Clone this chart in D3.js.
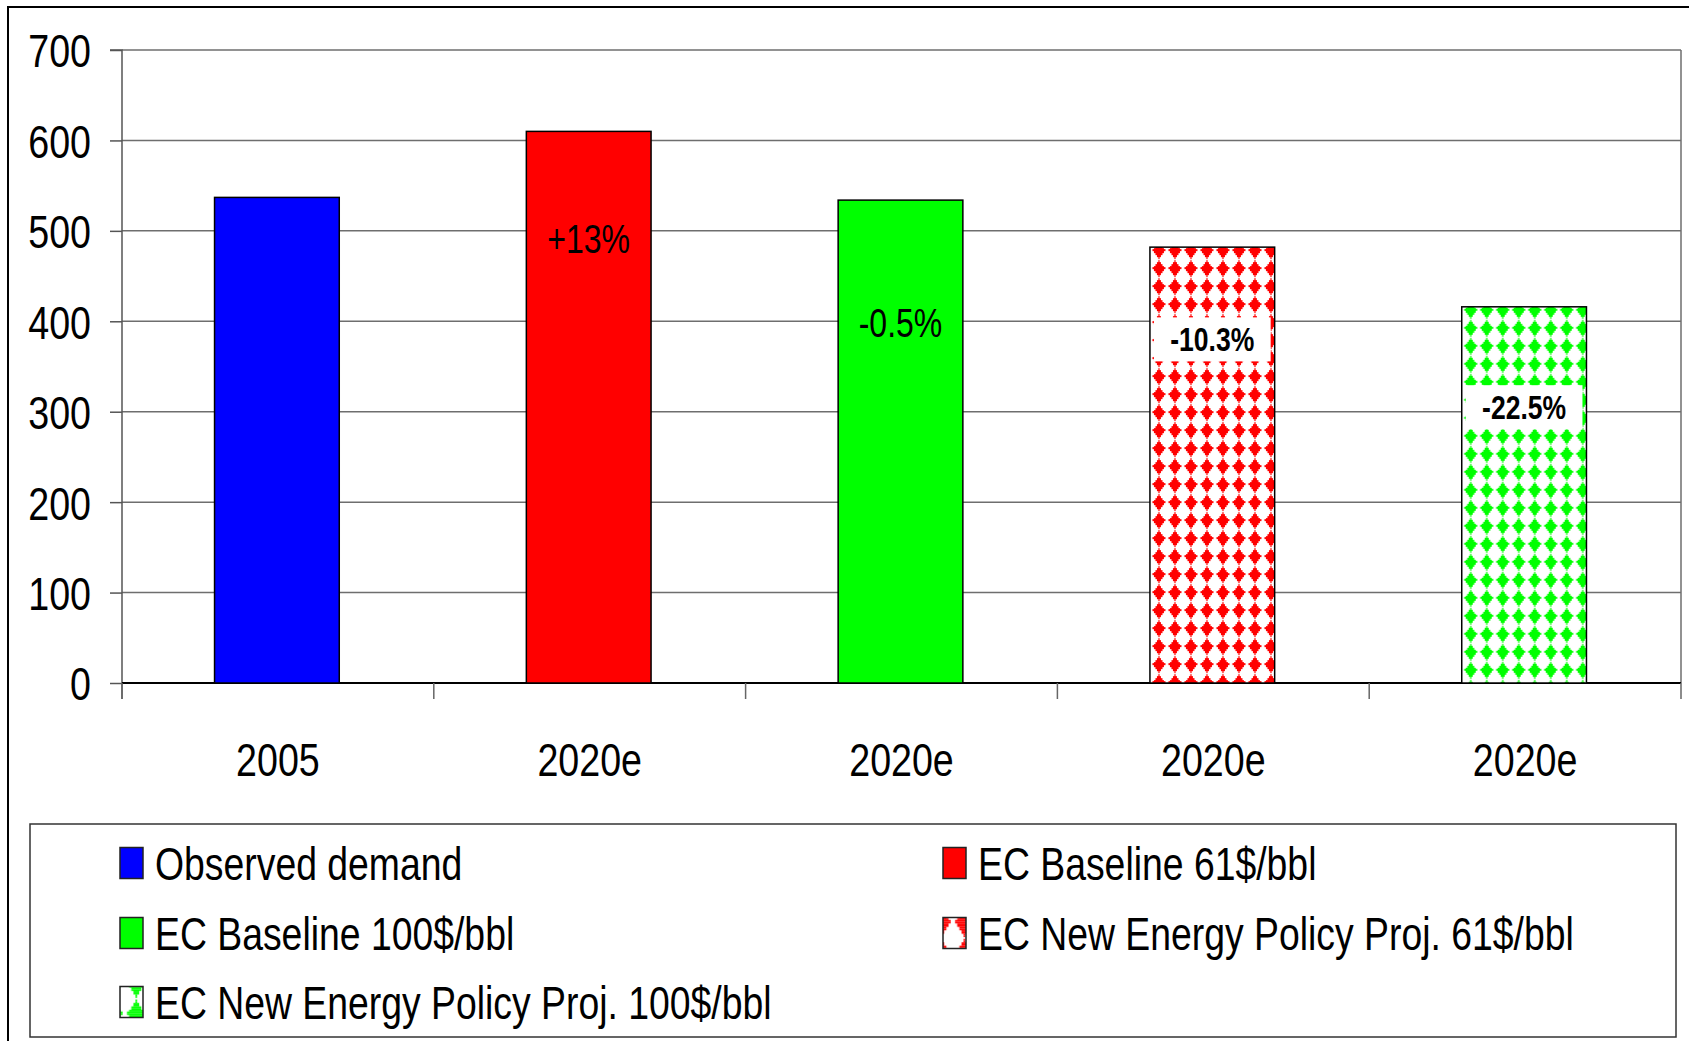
<!DOCTYPE html>
<html>
<head>
<meta charset="utf-8">
<script src="https://cdn.jsdelivr.net/npm/d3@7"></script>
<style>
  html, body { margin: 0; padding: 0; background: #fff; }
  svg { display: block; }
  text { font-family: "Liberation Sans", Arial, sans-serif; }
</style>
</head>
<body>
<svg id="chart" width="1689" height="1041"></svg>
<script>
// ---- data ----
const categories = ["2005", "2020e", "2020e", "2020e", "2020e"];
const seriesNames = ["Observed demand", "EC Baseline 61$/bbl", "EC Baseline 100$/bbl",
                     "EC New Energy Policy Proj. 61$/bbl", "EC New Energy Policy Proj. 100$/bbl"];
const values = [537, 610, 534, 482, 416];
const changeLabels = ["", "+13%", "-0.5%", "-10.3%", "-22.5%"];
const labelAnchors = [null, 491, 398, 380, 305];   // value level where each label sits
const yTicks = [0, 100, 200, 300, 400, 500, 600, 700];

// ---- styles ----
const fills = ["#0000ff", "#ff0000", "#00ff00", "url(#patRed)", "url(#patGreen)"];
const legendFills = ["#0000ff", "#ff0000", "#00ff00", "url(#legRed)", "url(#legGreen)"];
const labelBold = [false, false, false, true, true];
const NARROW = 0.8;

const svg = d3.select("#chart");
const defs = svg.append("defs");

// condense text horizontally (Arial Narrow look)
function condense(sel, k) {
  const s = k || NARROW;
  sel.each(function () {
    const t = d3.select(this);
    const x = +t.attr("x") || 0, y = +t.attr("y") || 0;
    t.attr("x", 0).attr("y", 0).attr("transform", `translate(${x},${y}) scale(${s},1)`);
  });
}

// stepped diamond rows: [dy, halfWidth]
const diamondRows = [[-8, 0.6], [-7, 0.6], [-6, 2], [-5, 2], [-4, 3.5], [-3, 3.5], [-2, 5], [-1, 6.5],
                     [0, 6.5], [1, 5], [2, 5], [3, 3.5], [4, 3.5], [5, 2], [6, 2], [7, 0.6]];

function diamondPattern(id, color, ox, oy, sx, sy) {
  const w = 16 * sx, h = 18 * sy;
  const p = defs.append("pattern").attr("id", id)
    .attr("patternUnits", "userSpaceOnUse")
    .attr("width", w).attr("height", h)
    .attr("x", ox).attr("y", oy);
  p.append("rect").attr("width", w).attr("height", h).attr("fill", "#fff");
  const g = p.append("g").attr("transform", `scale(${sx},${sy})`);
  g.selectAll("rect.d").data(diamondRows).join("rect")
    .attr("x", d => 8 - d[1]).attr("y", d => 9 + d[0])
    .attr("width", d => 2 * d[1]).attr("height", 1.02)
    .attr("fill", color);
  g.append("rect").attr("x", 7.4).attr("y", 17).attr("width", 1.2).attr("height", 1).attr("fill", color);
}

const W = 1689, H = 1041;
const plot = { left: 122, right: 1681, top: 50, bottom: 683 };

const x = d3.scaleBand().domain(d3.range(categories.length))
  .range([plot.left, plot.right]).paddingInner(0).paddingOuter(0);
const y = d3.scaleLinear().domain([0, 700]).range([plot.bottom, plot.top]);
const barW = x.bandwidth() * 0.4;
const barX = i => x(i) + (x.bandwidth() - barW) / 2 - 1;

diamondPattern("patRed", "#ff0000", barX(3) + 1, y(values[3]) - 6, 1, 1);
diamondPattern("patGreen", "#00ff00", barX(4) + 1, y(values[4]) - 6, 1, 1);

// outer frame
svg.append("rect").attr("x", 8).attr("y", 7).attr("width", W + 20).attr("height", H + 20)
  .attr("fill", "#fff").attr("stroke", "#000").attr("stroke-width", 2);

// gridlines
svg.append("g").selectAll("line").data(yTicks.filter(t => t > 0)).join("line")
  .attr("x1", plot.left).attr("x2", plot.right)
  .attr("y1", d => y(d)).attr("y2", d => y(d))
  .attr("stroke", "#6e6e6e").attr("stroke-width", 1.5);

// right border of plot area
svg.append("line").attr("x1", plot.right).attr("x2", plot.right)
  .attr("y1", plot.top).attr("y2", plot.bottom)
  .attr("stroke", "#6e6e6e").attr("stroke-width", 1.5);

// y axis
const yAxis = d3.axisLeft(y).tickValues(yTicks).tickSize(12).tickPadding(19).tickFormat(d3.format("d"));
const gy = svg.append("g").attr("transform", `translate(${plot.left},0)`).call(yAxis);
gy.select(".domain").attr("stroke", "#555").attr("stroke-width", 1.5).attr("d", `M-12,${plot.top}H0V${plot.bottom + 16}`);
gy.selectAll(".tick line").attr("stroke", "#555").attr("stroke-width", 1.5);
gy.selectAll(".tick text").attr("font-size", 47).attr("fill", "#000").attr("dy", "0.36em")
  .attr("font-family", "'Liberation Sans', Arial, sans-serif");
condense(gy.selectAll(".tick text"));

// x axis baseline and category ticks
svg.append("line").attr("x1", plot.left).attr("x2", plot.right)
  .attr("y1", plot.bottom).attr("y2", plot.bottom).attr("stroke", "#000").attr("stroke-width", 2);
const bounds = d3.range(categories.length + 1).map(i => plot.left + i * x.step());
svg.append("g").selectAll("line").data(bounds).join("line")
  .attr("x1", d => d).attr("x2", d => d).attr("y1", plot.bottom).attr("y2", plot.bottom + 16)
  .attr("stroke", "#666").attr("stroke-width", 1.5);
const xl = svg.append("g").selectAll("text").data(categories).join("text")
  .attr("x", (d, i) => x(i) + x.bandwidth() / 2)
  .attr("y", 776)
  .attr("text-anchor", "middle").attr("font-size", 47).attr("fill", "#000")
  .text(d => d);
condense(xl);

// bars
svg.append("g").selectAll("rect").data(values).join("rect")
  .attr("x", (d, i) => barX(i))
  .attr("width", barW)
  .attr("y", d => y(d))
  .attr("height", d => y(0) - y(d))
  .attr("fill", (d, i) => fills[i])
  .attr("stroke", "#000").attr("stroke-width", 1.5);

// change labels
const lg = svg.append("g");
changeLabels.forEach((t, i) => {
  if (!t) return;
  const cx = barX(i) + barW / 2;
  const cy = y(labelAnchors[i]);
  if (labelBold[i]) {
    const bw = barW - 8, bh = 44;
    lg.append("rect").attr("x", cx - bw / 2).attr("y", cy - bh / 2)
      .attr("width", bw).attr("height", bh).attr("fill", "#fff");
  }
  const tx = lg.append("text").attr("x", cx).attr("y", cy + (labelBold[i] ? 12 : 14))
    .attr("text-anchor", "middle")
    .attr("font-size", labelBold[i] ? 34 : 40)
    .attr("font-weight", labelBold[i] ? "bold" : "normal")
    .attr("fill", "#000").text(t);
  condense(tx, labelBold[i] ? 0.78 : 0.8);
});

// legend
const leg = { x: 30, y: 824, w: 1646, h: 213 };
svg.append("rect").attr("x", leg.x).attr("y", leg.y).attr("width", leg.w).attr("height", leg.h)
  .attr("fill", "#fff").attr("stroke", "#333").attr("stroke-width", 1.5);

const legPos = [[120, 863], [943, 863], [120, 933], [943, 933], [120, 1002]];
diamondPattern("legRed", "#ff0000", legPos[3][0] - 11.5, legPos[3][1] - 15.5 - 15.5, 1.44, 1.72);
diamondPattern("legGreen", "#00ff00", legPos[4][0], legPos[4][1] - 15.5, 1.44, 1.72);

const items = svg.append("g").selectAll("g").data(seriesNames).join("g")
  .attr("transform", (d, i) => `translate(${legPos[i][0]},${legPos[i][1]})`);
items.append("rect").attr("x", 0).attr("y", -15.5).attr("width", 23).attr("height", 31)
  .attr("fill", (d, i) => legendFills[i]).attr("stroke", "#222").attr("stroke-width", 1.5);
const lt = items.append("text").attr("x", 35).attr("y", 17)
  .attr("font-size", 47).attr("fill", "#000").text(d => d);
condense(lt, 0.795);
</script>
</body>
</html>
